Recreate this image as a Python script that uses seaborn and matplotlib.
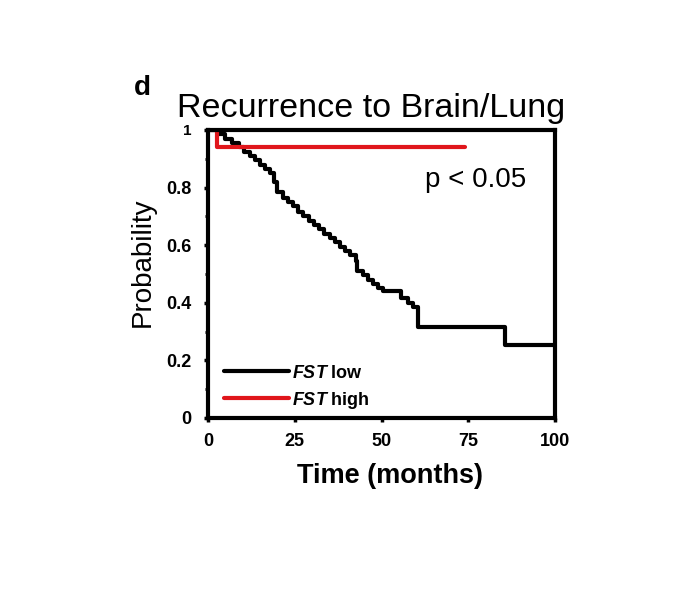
import pandas as pd
import seaborn as sns
import matplotlib.pyplot as plt
from matplotlib.ticker import MultipleLocator

# Kaplan-Meier steps
low_time = [0, 3, 5, 7, 9, 10.5, 12, 13.5, 15, 16.5, 18, 19, 20, 21.5, 23, 24.5, 26, 27.5,
            29, 30.5, 32, 33.5, 35, 36.5, 38, 39.5, 41, 42.5, 43, 44.5, 46, 47.5, 49, 50.5,
            55.5, 57.5, 59, 60.5, 85.5, 100]
low_prob = [1.0, 0.985, 0.97, 0.955, 0.94, 0.925, 0.91, 0.895, 0.88, 0.865, 0.85, 0.82, 0.785,
            0.765, 0.75, 0.735, 0.715, 0.70, 0.685, 0.67, 0.655, 0.64, 0.625, 0.61, 0.595, 0.58,
            0.565, 0.545, 0.51, 0.495, 0.48, 0.465, 0.45, 0.44, 0.415, 0.40, 0.385, 0.315,
            0.255, 0.255]
high_time = [0, 2.5, 74]
high_prob = [1.0, 0.94, 0.94]

labels = [r"$\mathit{FST}$ low", r"$\mathit{FST}$ high"]
colors = ["black", "#e0161b"]

df = pd.concat([
    pd.DataFrame({"time": low_time, "prob": low_prob, "group": labels[0]}),
    pd.DataFrame({"time": high_time, "prob": high_prob, "group": labels[1]}),
])

sns.set_style("white")
plt.rcParams["font.family"] = ["Liberation Sans", "DejaVu Sans"]
plt.rcParams["mathtext.fontset"] = "custom"
plt.rcParams["mathtext.it"] = "Liberation Sans:bold:italic"
plt.rcParams["text.color"] = "black"
plt.rcParams["axes.labelcolor"] = "black"
plt.rcParams["xtick.color"] = "black"
plt.rcParams["ytick.color"] = "black"

fig = plt.figure(figsize=(6.85, 6.08), dpi=100)
ax = fig.add_axes([0.3036, 0.3125, 0.507, 0.4737])

sns.lineplot(data=df, x="time", y="prob", hue="group", palette=colors,
             drawstyle="steps-post", estimator=None, linewidth=3, ax=ax)

ax.set_xlim(0, 100)
ax.set_ylim(0, 1)
ax.set_xticks([0, 25, 50, 75, 100])
ax.set_xticklabels(["0", "25", "50", "75", "100"])
ax.set_yticks([0, 0.2, 0.4, 0.6, 0.8, 1])
ax.set_yticklabels(["0", "0.2", "0.4", "0.6", "0.8", "1"])
ax.yaxis.set_minor_locator(MultipleLocator(0.1))
ax.tick_params(axis="both", which="major", direction="out", length=3, width=2.5,
               labelsize=13, left=True, bottom=True)
ax.tick_params(axis="y", which="major", pad=9)
ax.tick_params(axis="x", which="major", pad=8)
ax.tick_params(axis="y", which="minor", direction="out", length=2, width=2, left=True)
for lab in ax.get_xticklabels() + ax.get_yticklabels():
    lab.set_fontweight("bold")
ax.get_yticklabels()[-1].set_fontsize(11)
for sp in ax.spines.values():
    sp.set_linewidth(3)
    sp.set_color("black")

ax.set_xlabel("Time (months)", fontsize=19.5, fontweight="bold")
ax.xaxis.set_label_coords(0.524, -0.155)
ax.set_ylabel("Probability", fontsize=20)
ax.yaxis.set_label_coords(-0.15, 0.54)

ax.text(0.772, 0.828, "p < 0.05", transform=ax.transAxes, fontsize=20, ha="center", va="center")

fig.text(0.542, 0.8076, "Recurrence to Brain/Lung", fontsize=24.5, ha="center", va="baseline")
fig.text(0.208, 0.8437, "d", fontsize=20, fontweight="bold", ha="center", va="baseline")

leg = ax.legend(loc="lower left", frameon=False, handlelength=3.6,
                prop={"weight": "bold", "size": 13}, borderaxespad=0.0, labelspacing=0.45,
                handletextpad=0.15, bbox_to_anchor=(0.025, 0.0))
for line in leg.get_lines():
    line.set_linewidth(3)

fig.savefig("out.png", dpi=100)
